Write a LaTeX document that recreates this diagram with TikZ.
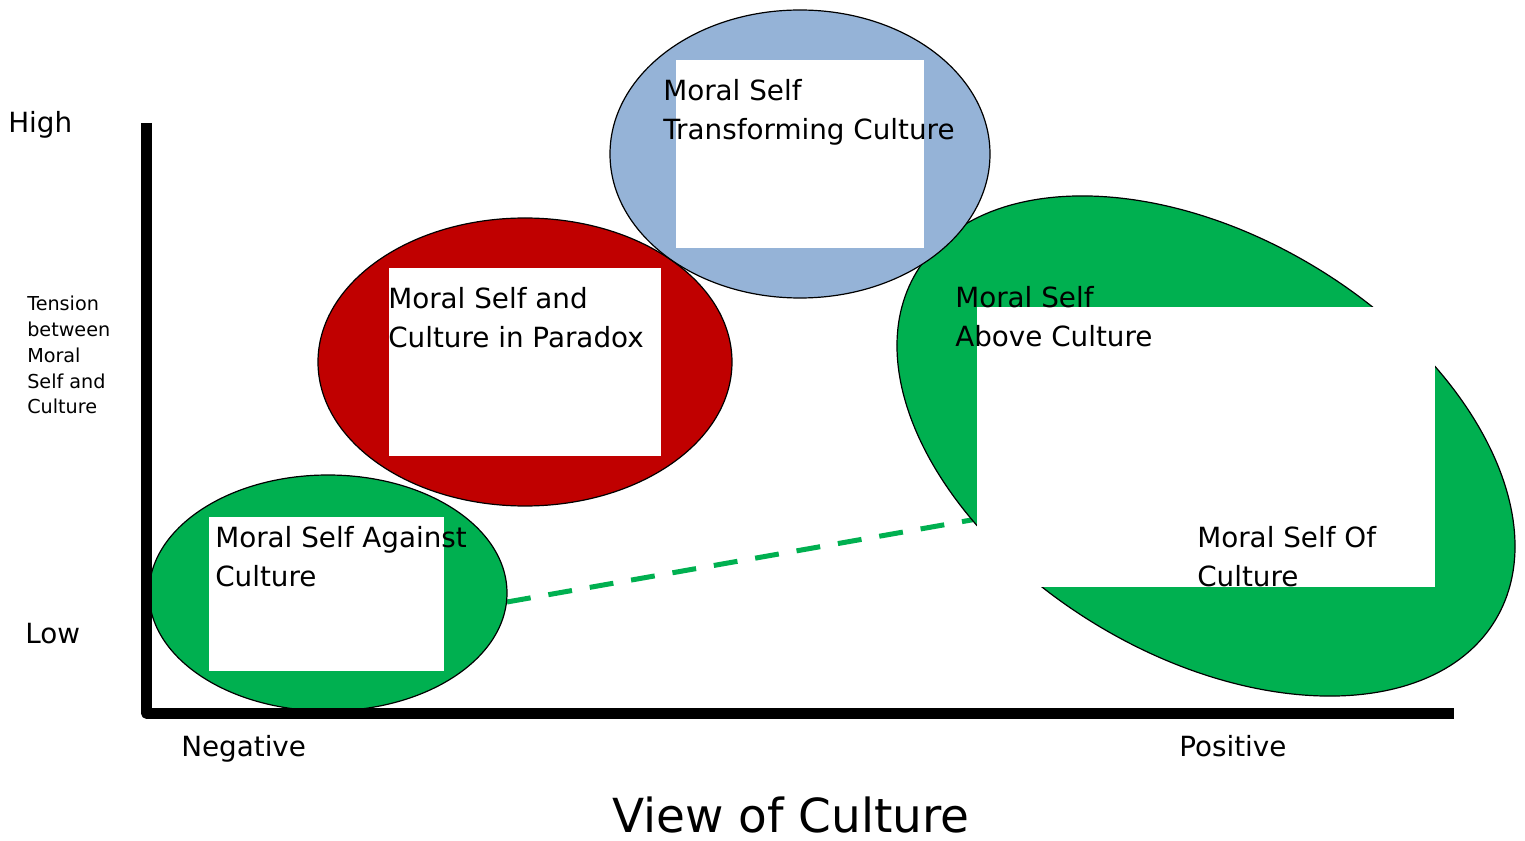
\documentclass[tikz,border=0pt]{standalone}
\usepackage{fontspec}
\setmainfont{DejaVu Sans}
\usepackage{tikz}

\definecolor{selfgreen}{RGB}{0,176,80}
\definecolor{selfred}{RGB}{192,0,0}
\definecolor{selfblue}{RGB}{149,179,215}

\tikzset{
  blob/.style={draw=black, line width=0.9},
  card/.style={fill=white},
  axisline/.style={line width=7.9, line join=round},
  linkline/.style={selfgreen, line width=3.75, dash pattern=on 18pt off 13.5pt},
  boxtext/.style={anchor=north west, inner sep=0pt, align=left, font=\fontsize{20.85}{29.25}\selectfont},
  axistext/.style={anchor=north west, inner sep=0pt, font=\fontsize{20.85}{29.25}\selectfont},
  sidetext/.style={anchor=north west, inner sep=0pt, align=left, font=\fontsize{14.4}{19.3}\selectfont},
  titletext/.style={anchor=north west, inner sep=0pt, font=\fontsize{35.2}{42}\selectfont}
}

\begin{document}
\begin{tikzpicture}[x=0.75pt,y=0.75pt,yscale=-1,xscale=1]
\useasboundingbox (0,0) rectangle (1525,841);

%Dashed link
\coordinate (linkstart) at (507,602);
\coordinate (linkend) at (977,519);
\draw [linkline] (linkstart) -- (linkend) ;

%Ellipses
\draw [blob, fill=selfgreen] (328,593) ellipse (179 and 118) ;
\draw [blob, fill=selfgreen, rotate around={31:(1206,446)}] (1206,446) ellipse (337.7 and 209.6) ;
\draw [blob, fill=selfred] (525,362) ellipse (207 and 144) ;
\draw [blob, fill=selfblue] (800,154) ellipse (190 and 144) ;

%Shapes: Rectangle
\fill [card] (209,517) rectangle (444,671) ;
\fill [card] (389,268) rectangle (661,456) ;
\fill [card] (676,60) rectangle (924,248) ;
\fill [card] (977,307) rectangle (1435,587) ;

%Axes
\coordinate (ytop) at (146.5,123);
\coordinate (origin) at (146.5,713.5);
\coordinate (xend) at (1454,713.5);
\draw [axisline] (ytop) -- (origin) -- (xend) ;

% Text Node
\node [boxtext] (againsttxt) at (215,526) {Moral Self Against\\Culture};
% Text Node
\node [boxtext] (paradoxtxt) at (388,287) {Moral Self and\\Culture in Paradox};
% Text Node
\node [boxtext] (transformtxt) at (663,79) {Moral Self\\Transforming Culture};
% Text Node
\node [boxtext] (abovetxt) at (955,286) {Moral Self\\Above Culture};
% Text Node
\node [boxtext] (oftxt) at (1197,526) {Moral Self Of\\Culture};

% Text Node
\node [axistext] (high) at (8,111) {High};
% Text Node
\node [axistext] (low) at (25,623) {Low};
% Text Node
\node [sidetext] (tension) at (27,296) {Tension\\between\\Moral\\Self and\\Culture};
% Text Node
\node [axistext] (negative) at (181,735) {Negative};
% Text Node
\node [axistext] (positive) at (1179,735) {Positive};
% Text Node
\node [titletext] (viewtxt) at (612,797) {View of Culture};

\end{tikzpicture}
\end{document}
